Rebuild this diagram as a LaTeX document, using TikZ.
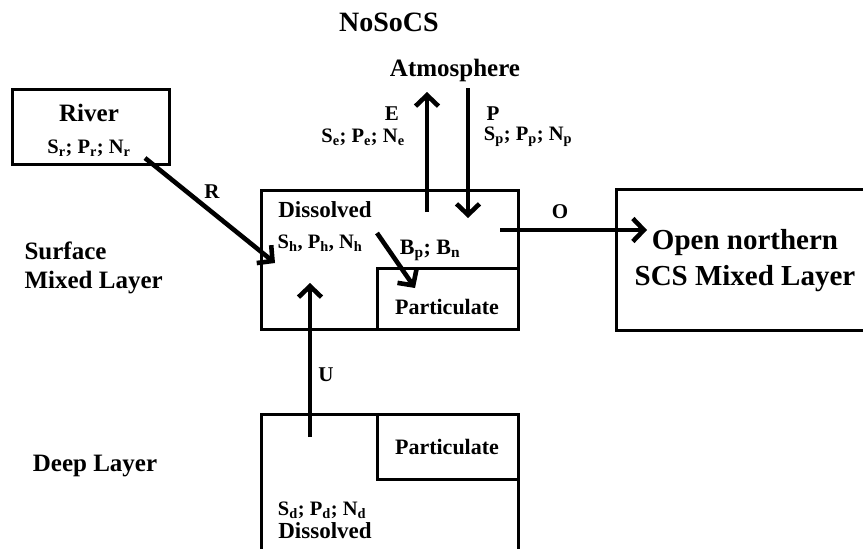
\documentclass[tikz,border=0pt]{standalone}
\usepackage{fontspec}
\setmainfont{Liberation Serif}
\usetikzlibrary{arrows.meta,positioning}
\tikzset{
  box/.style={draw,line width=2.6pt,inner sep=0pt,anchor=north west},
  flux/.style={line width=4.6pt,-{Straight Barb[length=11pt,width=23pt]}},
  lab/.style={font=\fontsize{25}{29}\selectfont\bfseries,align=center},
  sml/.style={font=\fontsize{21}{24}\selectfont\bfseries,align=center},
  var/.style={font=\fontsize{20.5}{24}\selectfont\bfseries,align=center},
}
\newcommand{\sub}[1]{\textsubscript{#1}}

\begin{document}
\begin{tikzpicture}[x=1pt,y=-1pt]
  \useasboundingbox (0,0) rectangle (863,549);
  \clip (0,0) rectangle (863,549);
  % boxes
  \node[box,minimum width=157pt,minimum height=75pt] (river) at (11,88) {};
  \node[box,minimum width=257pt,minimum height=139pt] (surf) at (260,189) {};
  \node[box,minimum width=141pt,minimum height=61pt] (spart) at (376,267) {};
  \node[box,minimum width=257pt,minimum height=160pt] (deep) at (260,413) {};
  \node[box,minimum width=141pt,minimum height=65pt] (dpart) at (376,413) {};
  \node[box,minimum width=270pt,minimum height=141pt] (open) at (615,188) {};
  % texts
  \node[lab,font=\fontsize{28}{32}\selectfont\bfseries] (title) at (389,22) {NoSoCS};
  \node[lab] (atm) at (455,70) {Atmosphere};
  \node[lab] (rivtxt) at (89,113) {River};
  \node[var] (rivvar) at (89,148) {S\sub{r}; P\sub{r}; N\sub{r}};
  \node[lab,align=left,anchor=west] (surflab) at (21,268) {Surface\\Mixed Layer};
  \node[lab] (deeplab) at (95,466) {Deep Layer};
  \node[sml,font=\fontsize{23}{27}\selectfont\bfseries] (sdis) at (325,210) {Dissolved};
  \node[var] (svar) at (320,243) {S\sub{h}, P\sub{h}, N\sub{h}};
  \node[sml,font=\fontsize{22}{26}\selectfont\bfseries] (sptxt) at (447,307) {Particulate};
  \node[sml,font=\fontsize{22}{26}\selectfont\bfseries] (dptxt) at (447,447) {Particulate};
  \node[var] (dvar) at (322,510) {S\sub{d}; P\sub{d}; N\sub{d}};
  \node[sml,font=\fontsize{23}{27}\selectfont\bfseries] (ddis) at (325,531) {Dissolved};
  \node[lab,font=\fontsize{29}{36}\selectfont\bfseries] (opentxt) at (745,261) {Open northern\\SCS Mixed Layer};
  % flux labels
  \node[sml] (elab) at (392,114) {E};
  \node[var] (evar) at (363,137) {S\sub{e}; P\sub{e}; N\sub{e}};
  \node[sml] (plab) at (493,114) {P};
  \node[var] (pvar) at (528,137) {S\sub{p}; P\sub{p}; N\sub{p}};
  \node[sml,font=\fontsize{22}{26}\selectfont\bfseries] (blab) at (430,250) {B\sub{p}; B\sub{n}};
  \node[sml] (rlab) at (212,192) {R};
  \node[sml] (olab) at (560,212) {O};
  \node[sml] (ulab) at (326,375) {U};
  % arrow ends
  \coordinate (r0) at (145,158);
  \coordinate (r1) at (275,263);
  \coordinate (e0) at (427,212);
  \coordinate (e1) at (427,92);
  \coordinate (p0) at (468,88);
  \coordinate (p1) at (468,218);
  \coordinate (b0) at (377,233);
  \coordinate (b1) at (415,288);
  \coordinate (o0) at (500,230);
  \coordinate (o1) at (647,230);
  \coordinate (u0) at (310,437);
  \coordinate (u1) at (310,283);
  \draw[flux] (r0) -- (r1);
  \draw[flux] (e0) -- (e1);
  \draw[flux] (p0) -- (p1);
  \draw[flux] (b0) -- (b1);
  \draw[flux] (o0) -- (o1);
  \draw[flux] (u0) -- (u1);
\end{tikzpicture}
\end{document}
